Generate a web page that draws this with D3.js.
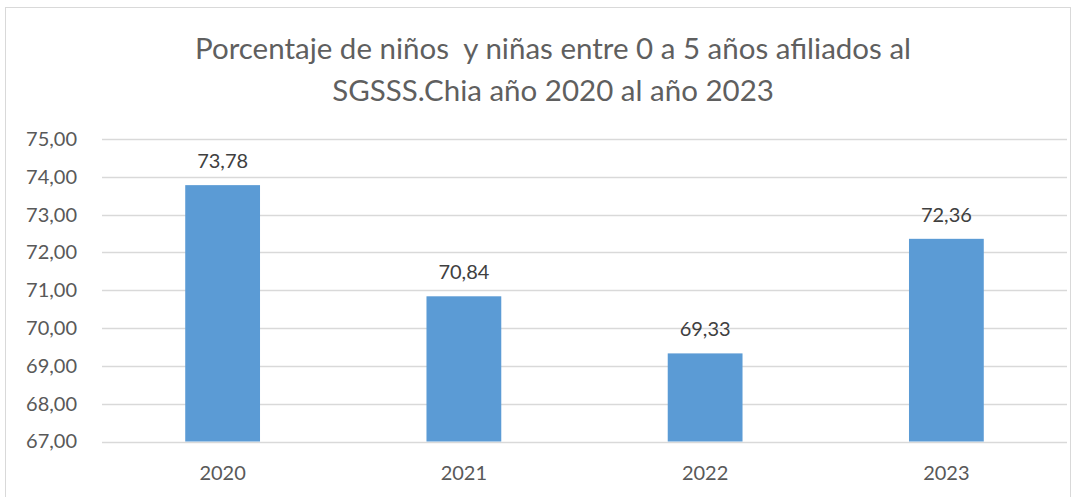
<!DOCTYPE html>
<html>
<head>
<meta charset="utf-8">
<script src="https://cdn.jsdelivr.net/npm/d3@7"></script>
<style>
  body { margin: 0; background: #fff; }
  text { font-family: Lato, "Open Sans", sans-serif; }
</style>
</head>
<body>
<div id="chart"></div>
<script>
// data
var years = ["2020", "2021", "2022", "2023"];
var values = [73.78, 70.84, 69.33, 72.36];
var yTicks = [67, 68, 69, 70, 71, 72, 73, 74, 75];
var titleLines = ["Porcentaje de niños  y niñas entre 0 a 5 años afiliados al",
                  "SGSSS.Chia año 2020 al año 2023"];

var W = 1083, H = 497;
var margin = {top: 139, right: 16, bottom: 55, left: 102};
var width = 1067 - margin.left,
    height = 441.5 - margin.top;

var locale = d3.formatLocale({decimal: ",", thousands: ".", grouping: [3], currency: ["", ""]});
var fmt = locale.format(".2f");

var svg = d3.select("#chart").append("svg")
    .attr("width", W)
    .attr("height", H);

// chart frame
svg.append("rect")
    .attr("x", 5.5).attr("y", 7.5)
    .attr("width", 1065).attr("height", 500)
    .style("fill", "#fff")
    .style("stroke", "#d9d9d9");

// title (keeps the double space of the original)
svg.append("g").selectAll("text")
    .data(titleLines)
    .enter().append("text")
    .attr("x", 553)
    .attr("y", function(d, i) { return 59 + i * 42; })
    .attr("text-anchor", "middle")
    .style("white-space", "pre")
    .style("font-size", "29.5px")
    .style("fill", "#5f5f5f")
    .text(function(d) { return d; });

var g = svg.append("g")
    .attr("transform", "translate(" + margin.left + "," + margin.top + ")");

var x = d3.scaleBand()
    .domain(years)
    .range([0, width])
    .padding(0);

var y = d3.scaleLinear()
    .domain([67, 75])
    .range([height, 0]);

// gridlines
g.append("g")
    .selectAll("line")
    .data(yTicks)
    .enter().append("line")
    .attr("x1", 0)
    .attr("x2", width)
    .attr("y1", function(d) { return Math.round(y(d)) + 0.5; })
    .attr("y2", function(d) { return Math.round(y(d)) + 0.5; })
    .style("stroke", "#d9d9d9")
    .style("stroke-width", 1.3);

// y axis labels
var yAxis = g.append("g")
    .attr("transform", "translate(-22,0)")
    .call(d3.axisLeft(y).tickValues(yTicks).tickFormat(fmt).tickSize(0));
yAxis.select(".domain").remove();
yAxis.selectAll("text")
    .style("font-family", "Lato, 'Open Sans', sans-serif")
    .style("font-size", "20px")
    .style("fill", "#595959");

// x axis labels
var xAxis = g.append("g")
    .attr("transform", "translate(0," + height + ")")
    .call(d3.axisBottom(x).tickSize(0).tickPadding(24));
xAxis.select(".domain").remove();
xAxis.selectAll("text")
    .style("font-family", "Lato, 'Open Sans', sans-serif")
    .style("font-size", "20px")
    .style("fill", "#595959");

// bars
var barW = x.bandwidth() * 0.31;
var rows = years.map(function(d, i) { return {year: d, value: values[i]}; });

g.selectAll(".bar")
    .data(rows)
    .enter().append("rect")
    .attr("class", "bar")
    .attr("x", function(d) { return x(d.year) + (x.bandwidth() - barW) / 2; })
    .attr("y", function(d) { return y(d.value); })
    .attr("width", barW)
    .attr("height", function(d) { return height - y(d.value); })
    .style("fill", "#5b9bd5");

// value labels
g.selectAll(".lbl")
    .data(rows)
    .enter().append("text")
    .attr("class", "lbl")
    .attr("x", function(d) { return x(d.year) + x.bandwidth() / 2; })
    .attr("y", function(d) { return y(d.value) - 17; })
    .attr("text-anchor", "middle")
    .style("font-size", "20px")
    .style("fill", "#404040")
    .text(function(d) { return fmt(d.value); });
</script>
</body>
</html>
